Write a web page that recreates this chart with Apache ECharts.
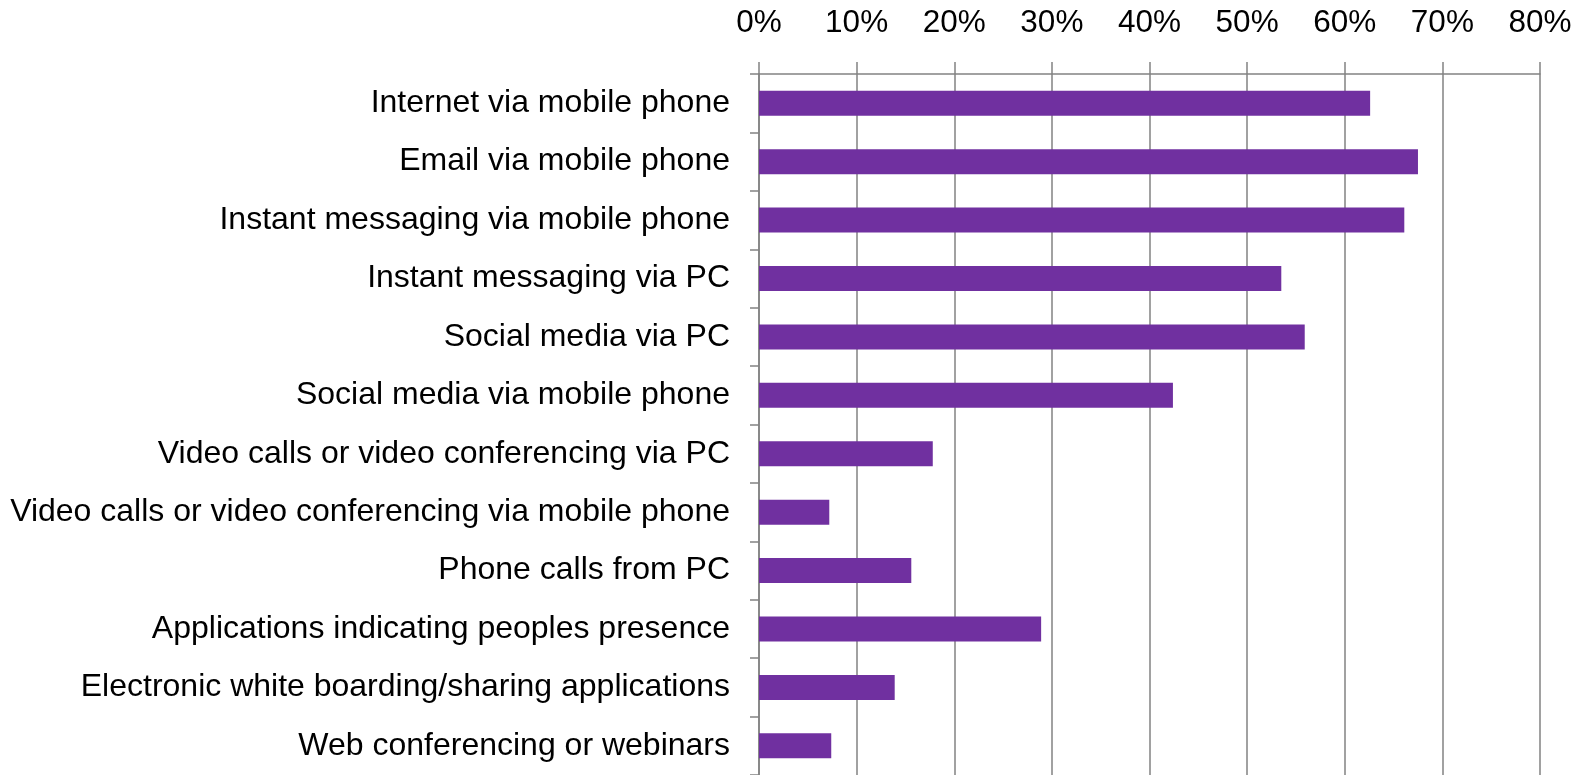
<!DOCTYPE html>
<html>
<head>
<meta charset="utf-8">
<script src="https://cdn.jsdelivr.net/npm/echarts@6/dist/echarts.min.js"></script>
<style>
  html, body { margin: 0; padding: 0; background: #ffffff; }
  #chart { width: 1587px; height: 775px; }
</style>
</head>
<body>
<div id="chart"></div>
<script>
// Communication tools in use (share of respondents, %)
const categories = [
  'Internet via mobile phone',
  'Email via mobile phone',
  'Instant messaging via mobile phone',
  'Instant messaging via PC',
  'Social media via PC',
  'Social media via mobile phone',
  'Video calls or video conferencing via PC',
  'Video calls or video conferencing via mobile phone',
  'Phone calls from PC',
  'Applications indicating peoples presence',
  'Electronic white boarding/sharing applications',
  'Web conferencing or webinars'
];
const shares = [62.6, 67.5, 66.1, 53.5, 55.9, 42.4, 17.8, 7.2, 15.6, 28.9, 13.9, 7.4];
const axisMin = 0;
const axisMax = 80;
const axisStep = 10;

const gray = '#828282';
const chart = echarts.init(document.getElementById('chart'), null, { renderer: 'canvas' });
chart.setOption({
  animation: false,
  grid: { left: 759, right: 47, top: 74, bottom: -2, containLabel: false },
  xAxis: {
    type: 'value',
    position: 'top',
    min: axisMin,
    max: axisMax,
    interval: axisStep,
    axisLine: { show: true, lineStyle: { color: gray, width: 1.5 } },
    axisTick: { show: true, length: 12, lineStyle: { color: gray, width: 1.5 } },
    splitLine: { show: true, lineStyle: { color: gray, width: 1.5 } },
    axisLabel: {
      margin: 35,
      color: '#000000',
      fontFamily: 'Liberation Sans, Arial, sans-serif',
      fontSize: 31.5,
      formatter: v => v + '%'
    }
  },
  yAxis: {
    type: 'category',
    inverse: true,
    data: categories,
    axisLine: { show: true, lineStyle: { color: gray, width: 1.5 } },
    axisTick: { show: true, length: 9, lineStyle: { color: gray, width: 1.5 } },
    axisLabel: {
      margin: 29,
      color: '#000000',
      fontFamily: 'Liberation Sans, Arial, sans-serif',
      fontSize: 32
    }
  },
  series: [{
    type: 'bar',
    data: shares,
    barWidth: 25,
    itemStyle: { color: '#7030a0' }
  }]
});
</script>
</body>
</html>
